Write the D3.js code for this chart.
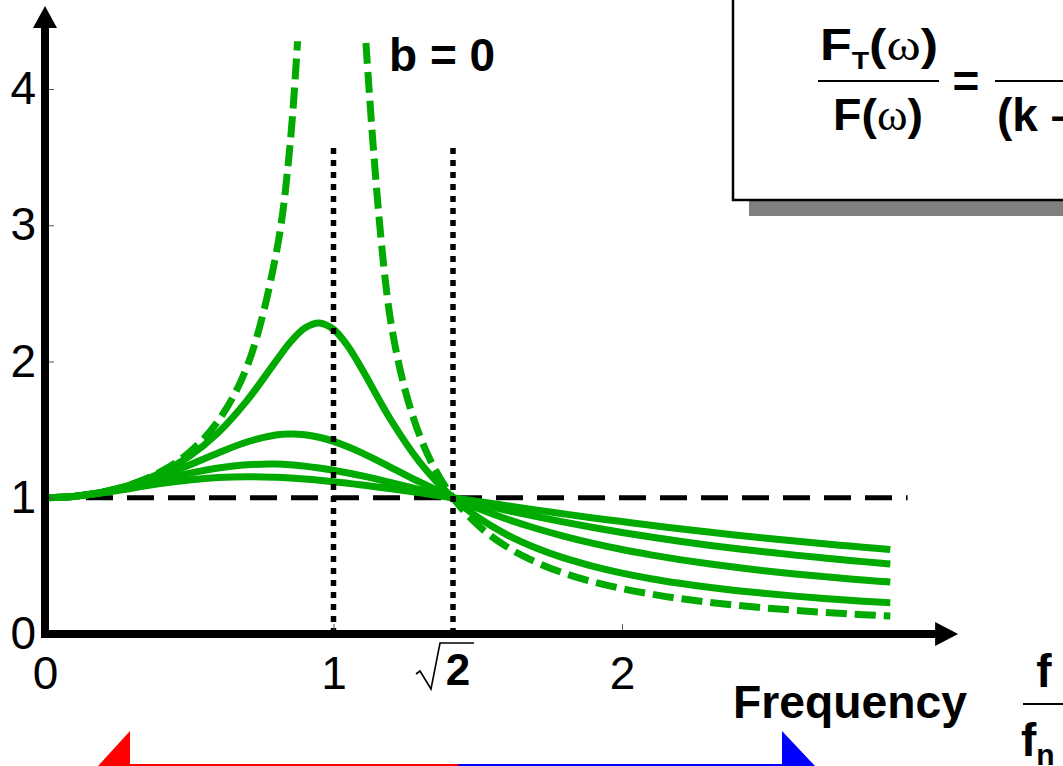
<!DOCTYPE html>
<html>
<head>
<meta charset="utf-8">
<script src="https://cdn.jsdelivr.net/npm/d3@7"></script>
<style>
  body { margin: 0; background: #fff; }
  svg { display: block; }
  text { font-family: "Liberation Sans", Arial, sans-serif; }
</style>
</head>
<body>
<svg id="chart" width="1063" height="766"></svg>
<script>
// frequency ratio f / fn
const freqRatio = [0, 0.1, 0.2, 0.3, 0.4, 0.5, 0.6, 0.7, 0.8, 0.85, 0.9, 0.95, 1.0, 1.05, 1.1,
    1.2, 1.3, 1.4, 1.5, 1.6, 1.7, 1.8, 1.9, 2.0, 2.1, 2.2, 2.3, 2.4, 2.5, 2.6, 2.7, 2.8, 2.9, 2.93];

// transmissibility (b = 0 goes off the top near f/fn = 1)
const undamped = [1, 1.01, 1.042, 1.099, 1.19, 1.333, 1.563, 1.961, 2.778, 3.604, 5.263, null, null, null, 4.762,
    2.273, 1.449, 1.042, 0.8, 0.641, 0.529, 0.446, 0.383, 0.333, 0.293, 0.26, 0.233, 0.21, 0.19, 0.174, 0.159, 0.146, 0.135, 0.132];
const lightDamping = [1, 1.01, 1.041, 1.096, 1.181, 1.304, 1.477, 1.713, 2.001, 2.141, 2.245, 2.283, 2.236, 2.112, 1.939,
    1.567, 1.258, 1.027, 0.857, 0.73, 0.633, 0.557, 0.497, 0.447, 0.406, 0.372, 0.343, 0.318, 0.297, 0.278, 0.261, 0.246, 0.233, 0.23];
const mediumDamping = [1, 1.01, 1.04, 1.09, 1.158, 1.24, 1.329, 1.409, 1.46, 1.468, 1.463, 1.444, 1.414, 1.374, 1.327,
    1.222, 1.114, 1.014, 0.923, 0.844, 0.776, 0.717, 0.665, 0.62, 0.581, 0.546, 0.515, 0.488, 0.463, 0.441, 0.421, 0.402, 0.386, 0.381];
const heavyDamping = [1, 1.01, 1.038, 1.08, 1.13, 1.179, 1.218, 1.242, 1.247, 1.242, 1.232, 1.219, 1.202, 1.182, 1.16,
    1.111, 1.059, 1.007, 0.957, 0.908, 0.863, 0.821, 0.782, 0.745, 0.712, 0.681, 0.652, 0.626, 0.602, 0.579, 0.558, 0.538, 0.519, 0.514];
const criticalDamping = [1, 1.01, 1.036, 1.07, 1.104, 1.131, 1.149, 1.155, 1.15, 1.145, 1.138, 1.129, 1.118, 1.106, 1.093,
    1.066, 1.036, 1.004, 0.973, 0.942, 0.911, 0.881, 0.852, 0.825, 0.798, 0.773, 0.748, 0.725, 0.703, 0.682, 0.662, 0.644, 0.625, 0.62];

const yTicks = [0, 1, 2, 3, 4];
const xTicks = [0, 1, 2];
const markers = [1, Math.SQRT2];   // dotted verticals

const green = "#00aa00";
const svg = d3.select("#chart");

const x = d3.scaleLinear().domain([0, 1]).range([45, 333.5]);
const y = d3.scaleLinear().domain([0, 4]).range([634, 89]);

// curves
const curves = [
    { values: criticalDamping, dashed: false },
    { values: heavyDamping, dashed: false },
    { values: mediumDamping, dashed: false },
    { values: lightDamping, dashed: false },
    { values: undamped, dashed: true }
];

svg.append("clipPath").attr("id", "plotClip")
    .append("rect")
    .attr("x", x(0)).attr("y", y(4.35))
    .attr("width", x(3.2) - x(0)).attr("height", y(0) - y(4.35));

// y = 1 reference line
svg.append("line")
    .attr("x1", x(0)).attr("x2", x(2.99))
    .attr("y1", y(1)).attr("y2", y(1))
    .attr("stroke", "#000").attr("stroke-width", 5)
    .attr("stroke-dasharray", "27,14");

const line = d3.line()
    .defined(d => d[1] != null)
    .x(d => x(d[0]))
    .y(d => y(d[1]))
    .curve(d3.curveCatmullRom);

svg.append("g").attr("clip-path", "url(#plotClip)")
    .selectAll("path")
    .data(curves)
    .enter().append("path")
    .attr("d", d => line(freqRatio.map((r, i) => [r, d.values[i]])))
    .attr("fill", "none")
    .attr("stroke", green)
    .attr("stroke-width", 7)
    .attr("stroke-dasharray", d => d.dashed ? "21,8" : null);

// dotted verticals at 1 and sqrt(2)
svg.selectAll(".marker")
    .data(markers)
    .enter().append("line")
    .attr("class", "marker")
    .attr("x1", d => x(d)).attr("x2", d => x(d))
    .attr("y1", y(0)).attr("y2", y(3.6))
    .attr("stroke", "#000").attr("stroke-width", 5.5)
    .attr("stroke-dasharray", "6,6");

// axes: tick marks + labels from d3, heavy arrow lines drawn on top
const yAxis = svg.append("g")
    .attr("transform", `translate(${x(0)},0)`)
    .call(d3.axisLeft(y).tickValues(yTicks).tickSize(-9).tickPadding(9).tickFormat(d3.format("d")));
yAxis.select(".domain").remove();
yAxis.selectAll("line").attr("stroke", "#555");
yAxis.selectAll("text").attr("font-size", 46).attr("font-family", "Liberation Sans, Arial, sans-serif").attr("fill", "#000");

const xAxis = svg.append("g")
    .attr("transform", `translate(0,${y(0)})`)
    .call(d3.axisBottom(x).tickValues(xTicks).tickSize(-10).tickPadding(22).tickFormat(d3.format("d")));
xAxis.select(".domain").remove();
xAxis.selectAll("line").attr("stroke", "#555");
xAxis.selectAll("text").attr("font-size", 46).attr("font-family", "Liberation Sans, Arial, sans-serif").attr("fill", "#000");

// sqrt(2) label
const sx = x(Math.SQRT2);
svg.append("path")
    .attr("d", `M${sx - 37},${y(0) + 40} L${sx - 33},${y(0) + 37} L${sx - 22},${y(0) + 55} L${sx - 13},${y(0) + 9} L${sx + 21},${y(0) + 9}`)
    .attr("fill", "none").attr("stroke", "#000").attr("stroke-width", 1.6);
svg.append("text")
    .attr("x", sx + 5).attr("y", y(0) + 51)
    .attr("text-anchor", "middle")
    .attr("font-size", 44).attr("font-weight", "bold")
    .text("2");

// axis lines with arrow heads
const xEnd = 3.165, yEnd = 4.61;
svg.append("line")
    .attr("x1", x(0) - 4).attr("x2", x(xEnd) - 22)
    .attr("y1", y(0)).attr("y2", y(0))
    .attr("stroke", "#000").attr("stroke-width", 8);
svg.append("path")
    .attr("d", `M${x(xEnd)},${y(0)} L${x(xEnd) - 23},${y(0) - 12} L${x(xEnd) - 23},${y(0) + 12} Z`)
    .attr("fill", "#000");
svg.append("line")
    .attr("x1", x(0)).attr("x2", x(0))
    .attr("y1", y(0) + 4).attr("y2", y(yEnd) + 20)
    .attr("stroke", "#000").attr("stroke-width", 8);
svg.append("path")
    .attr("d", `M${x(0)},${y(yEnd)} L${x(0) - 12},${y(yEnd) + 22} L${x(0) + 12},${y(yEnd) + 22} Z`)
    .attr("fill", "#000");

// b = 0 label
svg.append("text")
    .attr("x", 389).attr("y", 71)
    .attr("font-size", 46).attr("font-weight", "bold")
    .text("b = 0");

// Frequency label and f / fn
svg.append("text")
    .attr("x", 733).attr("y", 718)
    .attr("font-size", 46).attr("font-weight", "bold")
    .attr("textLength", 234).attr("lengthAdjust", "spacingAndGlyphs")
    .text("Frequency");
svg.append("text")
    .attr("x", 1044).attr("y", 687)
    .attr("text-anchor", "middle")
    .attr("font-size", 46).attr("font-weight", "bold")
    .text("f");
svg.append("line")
    .attr("x1", 1023).attr("x2", 1070)
    .attr("y1", 704).attr("y2", 704)
    .attr("stroke", "#000").attr("stroke-width", 2);
const fn = svg.append("text")
    .attr("x", 1021).attr("y", 756)
    .attr("font-size", 46).attr("font-weight", "bold");
fn.append("tspan").text("f");
fn.append("tspan").attr("font-size", 30).attr("dy", 9).text("n");

// formula box with shadow
svg.append("rect")
    .attr("x", 749).attr("y", 6).attr("width", 400).attr("height", 210)
    .attr("fill", "#808080");
svg.append("rect")
    .attr("x", 733).attr("y", -10).attr("width", 400).attr("height", 210)
    .attr("fill", "#fff").attr("stroke", "#000").attr("stroke-width", 2.5);

const num = svg.append("text")
    .attr("x", 820).attr("y", 60)
    .attr("font-size", 44).attr("font-weight", "bold")
    .attr("textLength", 118).attr("lengthAdjust", "spacingAndGlyphs");
num.append("tspan").text("F");
num.append("tspan").attr("font-size", 24).attr("dy", 9).text("T");
num.append("tspan").attr("dy", -9).text("(");
num.append("tspan").attr("font-family", "Liberation Serif, serif").attr("font-weight", "normal").text("ω");
num.append("tspan").text(")");

svg.append("line")
    .attr("x1", 818).attr("x2", 939)
    .attr("y1", 81).attr("y2", 81)
    .attr("stroke", "#000").attr("stroke-width", 2);

const den = svg.append("text")
    .attr("x", 833).attr("y", 130)
    .attr("font-size", 44).attr("font-weight", "bold")
    .attr("textLength", 90).attr("lengthAdjust", "spacingAndGlyphs");
den.append("tspan").text("F(");
den.append("tspan").attr("font-family", "Liberation Serif, serif").attr("font-weight", "normal").text("ω");
den.append("tspan").text(")");

svg.append("text")
    .attr("x", 966).attr("y", 97)
    .attr("text-anchor", "middle")
    .attr("font-size", 46).attr("font-weight", "bold")
    .text("=");

svg.append("line")
    .attr("x1", 995).attr("x2", 1070)
    .attr("y1", 81).attr("y2", 81)
    .attr("stroke", "#000").attr("stroke-width", 2);
svg.append("text")
    .attr("x", 997).attr("y", 131)
    .attr("font-size", 46).attr("font-weight", "bold")
    .text("(k \u2013");

// isolation range bar at the bottom
svg.append("path").attr("d", "M98,766 L130,731 L130,766 Z").attr("fill", "#ff0000");
svg.append("line").attr("x1", 130).attr("x2", 458).attr("y1", 765).attr("y2", 765)
    .attr("stroke", "#ff0000").attr("stroke-width", 2);
svg.append("line").attr("x1", 458).attr("x2", 782).attr("y1", 765).attr("y2", 765)
    .attr("stroke", "#0000ff").attr("stroke-width", 2);
svg.append("path").attr("d", "M782,731 L782,766 L815,766 Z").attr("fill", "#0000ff");
</script>
</body>
</html>
